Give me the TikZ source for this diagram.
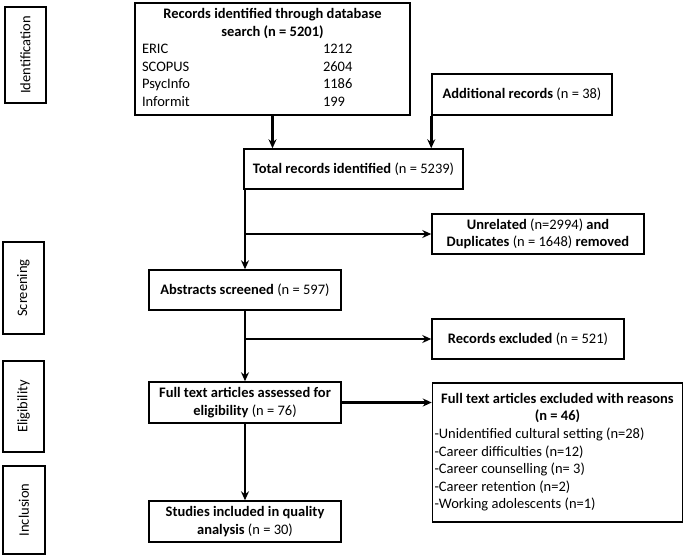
\documentclass[tikz,border=0pt]{standalone}
\usepackage{fontspec}
\setmainfont{Carlito}
\usetikzlibrary{arrows.meta}

\begin{document}
\begin{tikzpicture}[x=1pt,y=-1pt,
  box/.style={draw,line width=1.5pt,align=center,inner sep=2pt,font=\fontsize{14.5}{17.6}\selectfont},
  stage/.style={draw,line width=1.5pt,rotate=90,inner sep=0pt,font=\fontsize{14.5}{17.6}\selectfont},
  flow/.style={line width=2.5pt,-{Stealth[length=9pt,width=8pt,inset=3pt]}}]

% 边界
\useasboundingbox (0,0) rectangle (686,558);

% 阶段
\node[stage,minimum width=96pt,minimum height=41pt] (ident) at (25.5,55) {Identification};
\node[stage,minimum width=92pt,minimum height=41pt] (screen) at (23.5,288) {Screening};
\node[stage,minimum width=91pt,minimum height=41pt] (elig) at (23.5,406.5) {Eligibility};
\node[stage,minimum width=88pt,minimum height=42pt] (incl) at (24,510) {Inclusion};

% 方框
\node[box,inner xsep=7pt,inner ysep=3pt,minimum width=275pt,minimum height=112pt] (search) at (272.5,59) {%
\begin{tabular}{@{}p{181pt}@{}p{80pt}@{}}
\multicolumn{2}{@{}c@{}}{\bfseries Records identified through database}\\
\multicolumn{2}{@{}c@{}}{\bfseries search (n = 5201)}\\
ERIC & 1212\\
SCOPUS & 2604\\
PsycInfo & 1186\\
Informit & 199
\end{tabular}};
\node[box,minimum width=180pt,minimum height=41pt] (extra) at (522,94.5) {\textbf{Additional records} (n = 38)};
\node[box,minimum width=219pt,minimum height=40pt] (total) at (353.5,169) {\textbf{Total records identified} (n = 5239)};
\node[box,minimum width=212pt,minimum height=40pt] (unrel) at (538,234) {\textbf{Unrelated} (n=2994) \textbf{and}\\ \textbf{Duplicates} (n = 1648) \textbf{removed}};
\node[box,minimum width=192pt,minimum height=40pt] (screened) at (245,290) {\textbf{Abstracts screened} (n = 597)};
\node[box,minimum width=192pt,minimum height=40pt] (excluded) at (528,339) {\textbf{Records excluded} (n = 521)};
\node[box,minimum width=192pt,minimum height=41pt] (fulltext) at (245,402.5) {\textbf{Full text articles assessed for}\\ \textbf{eligibility} (n = 76)};
\node[box,minimum width=250pt,minimum height=139pt] (reasons) at (557.5,452.5) {%
\begin{tabular}{@{}p{246pt}@{}}
\multicolumn{1}{@{}c@{}}{\bfseries Full text articles excluded with reasons}\\
\multicolumn{1}{@{}c@{}}{\bfseries (n = 46)}\\
-Unidentified cultural setting (n=28)\\
-Career difficulties (n=12)\\
-Career counselling (n= 3)\\
-Career retention (n=2)\\
-Working adolescents (n=1)
\end{tabular}};
\node[box,minimum width=192pt,minimum height=41pt] (studies) at (245,521.5) {\textbf{Studies included in quality}\\ \textbf{analysis} (n = 30)};

% 箭头
\draw[flow] (search.south) -- (search.south |- total.north);
\draw[flow] (extra.south west) -- (extra.south west |- total.north);
\draw[flow] (screened.north |- total.south) -- (screened.north);
\draw[flow] (screened.north |- unrel.west) -- (unrel.west);
\draw[flow] (screened.south) -- (fulltext.north);
\draw[flow] (screened.south |- excluded.west) -- (excluded.west);
\draw[flow] (fulltext.east) -- (fulltext.east -| reasons.west);
\draw[flow] (fulltext.south) -- (studies.north);

\end{tikzpicture}
\end{document}
